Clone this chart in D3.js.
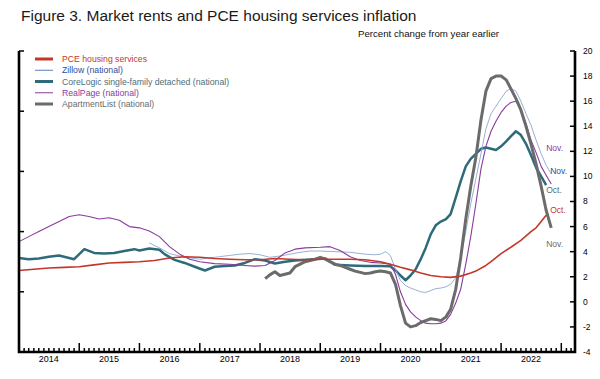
<!DOCTYPE html>
<html lang="en">
<head>
<meta charset="UTF-8">
<title>Figure 3. Market rents and PCE housing services inflation</title>
<style>
  body { margin: 0; background: #fff; }
  svg { font-family: "Liberation Sans", Arial, Helvetica, sans-serif; display: block; }
  .axis-line { stroke: #000; stroke-width: 2.6px; fill: none; }
  .tick { stroke: #000; stroke-width: 1.5px; }
  .series { fill: none; stroke-linejoin: round; }
</style>
<script src="https://d3js.org/d3.v7.min.js"></script>
</head>
<body>
<div id="chart"></div>
<script>
// Values: percent change from year earlier, by month
var pceHousing = [["2014-01",2.5],["2014-04",2.6],["2014-07",2.7],["2014-10",2.75],["2015-01",2.8],["2015-04",2.95],
  ["2015-07",3.1],["2015-10",3.15],["2016-01",3.2],["2016-04",3.3],["2016-07",3.5],["2016-10",3.6],["2017-01",3.55],
  ["2017-04",3.45],["2017-07",3.4],["2017-10",3.35],["2018-01",3.35],["2018-04",3.45],["2018-07",3.4],["2018-10",3.35],
  ["2019-01",3.4],["2019-04",3.4],["2019-07",3.4],["2019-10",3.35],["2020-01",3.2],["2020-03",3.0],["2020-05",2.75],
  ["2020-07",2.55],["2020-09",2.3],["2020-11",2.1],["2021-01",2.0],["2021-03",1.95],["2021-05",2.05],["2021-07",2.3],
  ["2021-08",2.45],["2021-10",2.9],["2021-11",3.2],["2022-01",3.85],["2022-03",4.35],["2022-05",4.9],["2022-07",5.6],
  ["2022-08",5.9],["2022-09",6.4],["2022-10",6.9]];

var zillow = [["2016-03",4.7],["2016-05",4.3],["2016-07",3.85],["2016-09",3.65],["2016-11",3.5],["2017-01",3.4],
  ["2017-03",3.5],["2017-05",3.6],["2017-07",3.7],["2017-09",3.8],["2017-11",3.85],["2018-01",3.75],["2018-03",3.55],
  ["2018-05",3.65],["2018-07",3.8],["2018-09",3.95],["2018-11",4.05],["2019-01",4.05],["2019-04",4.0],["2019-07",3.95],
  ["2019-10",3.8],["2019-12",3.75],["2020-01",3.8],["2020-02",4.0],["2020-03",3.7],["2020-04",2.6],["2020-05",1.7],
  ["2020-06",1.3],["2020-07",1.1],["2020-08",0.95],["2020-09",0.8],["2020-10",0.75],["2020-11",0.9],["2020-12",1.05],
  ["2021-01",1.1],["2021-02",1.2],["2021-03",1.4],["2021-04",1.9],["2021-05",3.5],["2021-06",5.6],["2021-07",7.8],
  ["2021-08",9.8],["2021-09",11.8],["2021-10",13.8],["2021-11",15.0],["2021-12",15.6],["2022-01",16.2],["2022-02",16.8],
  ["2022-03",17.0],["2022-04",16.8],["2022-05",16.0],["2022-06",15.0],["2022-07",14.1],["2022-08",12.9],["2022-09",11.8],
  ["2022-10",10.9],["2022-11",10.2]];

var coreLogic = [["2014-01",3.5],["2014-03",3.4],["2014-05",3.45],["2014-07",3.6],["2014-09",3.7],["2014-12",3.4],
  ["2015-02",4.2],["2015-04",3.9],["2015-06",3.85],["2015-08",3.9],["2015-10",4.05],["2015-12",4.2],["2016-01",4.1],
  ["2016-03",4.25],["2016-05",4.15],["2016-06",3.8],["2016-08",3.35],["2016-10",3.1],["2016-12",2.8],["2017-02",2.5],
  ["2017-04",2.8],["2017-06",2.85],["2017-08",2.9],["2017-10",3.1],["2017-12",3.4],["2018-02",3.3],["2018-04",3.05],
  ["2018-06",3.2],["2018-08",3.3],["2018-11",3.37],["2019-02",3.45],["2019-04",2.95],["2019-07",2.9],["2019-10",2.85],
  ["2020-01",2.85],["2020-03",2.84],["2020-04",2.5],["2020-05",2.1],["2020-06",1.72],["2020-07",2.1],["2020-08",2.6],
  ["2020-09",3.4],["2020-10",4.3],["2020-11",5.4],["2020-12",6.1],["2021-01",6.4],["2021-02",6.6],["2021-03",7.0],
  ["2021-04",8.3],["2021-05",9.6],["2021-06",10.8],["2021-07",11.4],["2021-08",11.8],["2021-09",12.2],["2021-10",12.3],
  ["2021-11",12.2],["2021-12",12.1],["2022-01",12.4],["2022-02",12.8],["2022-03",13.2],["2022-04",13.6],["2022-05",13.3],
  ["2022-06",12.6],["2022-07",11.7],["2022-08",10.7],["2022-09",10.0],["2022-10",9.3]];

var realPage = [["2014-01",4.8],["2014-03",5.2],["2014-05",5.6],["2014-07",6.0],["2014-09",6.4],["2014-11",6.8],
  ["2015-01",6.95],["2015-03",6.8],["2015-05",6.6],["2015-07",6.7],["2015-09",6.5],["2015-11",6.0],["2016-01",5.9],
  ["2016-03",5.65],["2016-05",5.2],["2016-07",4.4],["2016-09",3.8],["2016-11",3.4],["2017-01",3.2],["2017-04",3.05],
  ["2017-07",3.0],["2017-10",2.9],["2017-12",2.85],["2018-02",2.9],["2018-04",3.3],["2018-06",3.9],["2018-08",4.2],
  ["2018-10",4.3],["2019-01",4.35],["2019-03",4.4],["2019-05",4.1],["2019-07",3.6],["2019-09",3.3],["2019-11",3.15],
  ["2020-01",3.1],["2020-03",3.0],["2020-04",2.2],["2020-05",0.8],["2020-06",-0.2],["2020-07",-0.8],["2020-08",-1.2],
  ["2020-09",-1.5],["2020-10",-1.7],["2020-11",-1.75],["2020-12",-1.75],["2021-01",-1.7],["2021-02",-1.5],["2021-03",-1.0],
  ["2021-04",-0.1],["2021-05",1.0],["2021-06",3.0],["2021-07",5.2],["2021-08",7.8],["2021-09",10.6],["2021-10",12.4],
  ["2021-11",13.6],["2021-12",14.4],["2022-01",15.1],["2022-02",15.6],["2022-03",15.9],["2022-04",16.0],["2022-05",15.3],
  ["2022-06",14.2],["2022-07",12.9],["2022-08",11.9],["2022-09",10.8],["2022-10",10.1],["2022-11",9.4]];

var apartmentList = [["2018-02",1.85],["2018-03",2.15],["2018-04",2.4],["2018-05",2.1],["2018-06",2.2],["2018-07",2.3],
  ["2018-08",2.8],["2018-09",3.0],["2018-10",3.2],["2018-11",3.3],["2018-12",3.4],["2019-01",3.55],["2019-02",3.4],
  ["2019-03",3.2],["2019-04",3.0],["2019-05",2.9],["2019-06",2.75],["2019-07",2.6],["2019-08",2.45],["2019-09",2.35],
  ["2019-10",2.25],["2019-11",2.3],["2019-12",2.4],["2020-01",2.45],["2020-02",2.4],["2020-03",2.3],["2020-04",1.4],
  ["2020-05",-0.3],["2020-06",-1.7],["2020-07",-2.0],["2020-08",-1.9],["2020-09",-1.65],["2020-10",-1.5],["2020-11",-1.35],
  ["2020-12",-1.4],["2021-01",-1.5],["2021-02",-1.2],["2021-03",-0.6],["2021-04",1.0],["2021-05",3.5],["2021-06",6.6],
  ["2021-07",9.2],["2021-08",11.5],["2021-09",14.5],["2021-10",16.8],["2021-11",17.8],["2021-12",18.0],["2022-01",18.0],
  ["2022-02",17.7],["2022-03",17.0],["2022-04",16.2],["2022-05",15.3],["2022-06",14.0],["2022-07",12.6],["2022-08",11.0],
  ["2022-09",9.2],["2022-10",7.3],["2022-11",5.9]];

var yTicks = [-4, -2, 0, 2, 4, 6, 8, 10, 12, 14, 16, 18, 20];
var yearLabels = [2014, 2015, 2016, 2017, 2018, 2019, 2020, 2021, 2022];

// draw order matters: thick gray over the thin lines, red on top
var series = [
  { name: "CoreLogic single-family detached (national)", data: coreLogic, color: "#2e6b7a", text: "#4d6e7b", width: 2.5, legendWidth: 3 },
  { name: "Zillow (national)", data: zillow, color: "#8fa6cf", text: "#2c4f9c", width: 0.9, legendWidth: 1, legendColor: "#5a7db8" },
  { name: "RealPage (national)", data: realPage, color: "#8a3b9e", text: "#8a3b9e", width: 1.1, legendWidth: 1 },
  { name: "ApartmentList (national)", data: apartmentList, color: "#6b6b6b", text: "#6b6b6b", width: 3, legendWidth: 3 },
  { name: "PCE housing services", data: pceHousing, color: "#c3372a", text: "#c3372a", width: 1.6, legendWidth: 3 }
];
var legendOrder = ["PCE housing services", "Zillow (national)", "CoreLogic single-family detached (national)",
  "RealPage (national)", "ApartmentList (national)"];

var endLabels = [
  { text: "Nov.", value: 12.3, color: "#8a3b9e", dx: -5 },
  { text: "Nov.", value: 10.4, color: "#2c4f9c", dx: -1 },
  { text: "Oct.", value: 8.9, color: "#4d6e7b", dx: -5 },
  { text: "Oct.", value: 7.3, color: "#c3372a", dx: -1 },
  { text: "Nov.", value: 4.6, color: "#6b6b6b", dx: -5 }
];

var width = 600, height = 379;
var plotLeft = 19, plotRight = 575, plotTop = 51, plotBottom = 352;
var parse = d3.timeParse("%Y-%m");

var svg = d3.select("#chart").append("svg")
  .attr("width", width)
  .attr("height", height);

var x = d3.scaleTime()
  .domain([new Date(2014, 0, 1), new Date(2023, 2, 25)])
  .range([plotLeft, plotRight]);
var y = d3.scaleLinear().domain([-4, 20]).range([plotBottom, plotTop]);

// title and unit
svg.append("text")
  .attr("x", 21).attr("y", 21)
  .attr("font-size", 15.5).attr("fill", "#1a1a1a")
  .text("Figure 3. Market rents and PCE housing services inflation");

svg.append("text")
  .attr("x", 499).attr("y", 37)
  .attr("text-anchor", "end")
  .attr("font-size", 9.7).attr("fill", "#111")
  .text("Percent change from year earlier");

// series lines
var line = d3.line()
  .x(d => x(parse(d[0])))
  .y(d => y(d[1]));

svg.append("g").selectAll("path")
  .data(series)
  .enter().append("path")
  .attr("class", "series")
  .attr("d", d => line(d.data))
  .attr("stroke", d => d.color)
  .attr("stroke-width", d => d.width);

// axes frame
var axes = svg.append("g");
axes.append("path").attr("class", "axis-line")
  .attr("d", `M${plotLeft},${plotTop}V${plotBottom}H${plotRight}V${plotTop}`);

// right axis ticks and labels
axes.selectAll(".ytick")
  .data(yTicks)
  .enter().append("line")
  .attr("class", "tick")
  .attr("x1", plotRight - 5).attr("x2", plotRight)
  .attr("y1", d => y(d)).attr("y2", d => y(d));

axes.selectAll(".ylabel")
  .data(yTicks)
  .enter().append("text")
  .attr("x", 583)
  .attr("y", d => y(d))
  .attr("dy", "0.35em")
  .attr("font-size", 8.5)
  .text(d => d < 0 ? "-" + Math.abs(d) : d);

// left axis ticks (no labels)
axes.selectAll(".ltick")
  .data(d3.range(6))
  .enter().append("line")
  .attr("class", "tick")
  .attr("x1", plotLeft).attr("x2", plotLeft + 5)
  .attr("y1", d => plotTop + d * (plotBottom - plotTop) / 5)
  .attr("y2", d => plotTop + d * (plotBottom - plotTop) / 5);

// month ticks along the bottom, taller at each January
var months = d3.timeMonth.range(new Date(2014, 0, 1), new Date(2023, 2, 2));
axes.selectAll(".xtick")
  .data(months)
  .enter().append("line")
  .attr("class", "tick")
  .attr("x1", d => x(d)).attr("x2", d => x(d))
  .attr("y1", plotBottom)
  .attr("y2", d => plotBottom - (d.getMonth() === 0 ? 9 : 4));

axes.selectAll(".xlabel")
  .data(yearLabels)
  .enter().append("text")
  .attr("x", d => x(new Date(d, 6, 1)))
  .attr("y", 362)
  .attr("text-anchor", "middle")
  .attr("font-size", 9)
  .text(d => d);

// legend
var legend = svg.append("g");
var legendRows = legendOrder.map(n => series.find(s => s.name === n));
legendRows.forEach((s, i) => {
  var ly = 59 + i * 11.25;
  legend.append("line")
    .attr("x1", 35).attr("x2", 53)
    .attr("y1", ly).attr("y2", ly)
    .attr("stroke", s.legendColor || s.color)
    .attr("stroke-width", s.legendWidth);
  legend.append("text")
    .attr("x", 62).attr("y", ly)
    .attr("dy", "0.35em")
    .attr("font-size", 8.7)
    .attr("fill", s.text)
    .text(s.name);
});

// end-of-series month labels
svg.append("g").selectAll("text")
  .data(endLabels)
  .enter().append("text")
  .attr("x", d => x(new Date(2022, 10, 1)) + d.dx)
  .attr("y", d => y(d.value))
  .attr("dy", "0.35em")
  .attr("font-size", 8.5)
  .attr("fill", d => d.color)
  .text(d => d.text);
</script>
</body>
</html>
